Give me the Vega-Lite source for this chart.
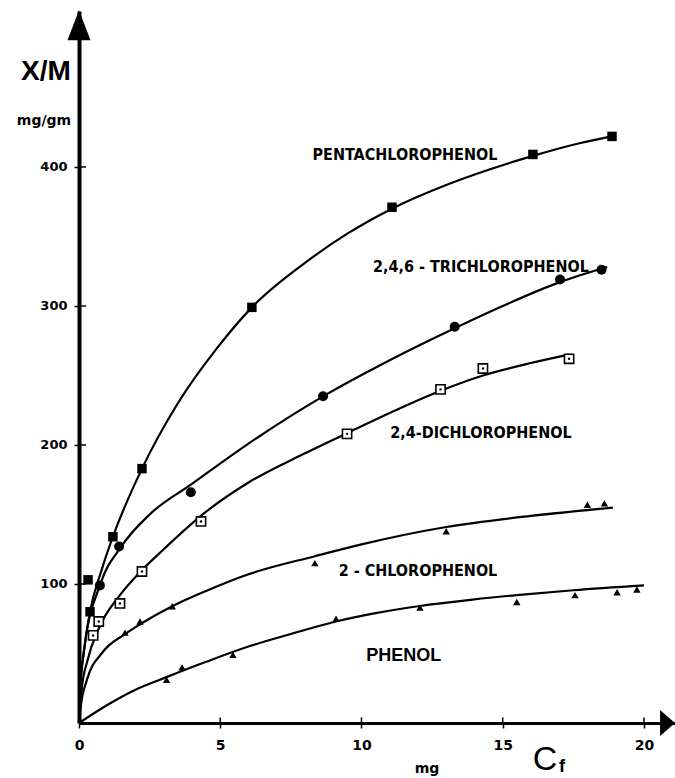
{
  "$schema": "https://vega.github.io/schema/vega-lite/v6.json",
  "width": 596,
  "height": 712,
  "autosize": {"type": "none"},
  "padding": {"left": 79, "top": 11, "right": 0, "bottom": 55},
  "background": "white",
  "config": {"view": {"stroke": null}, "axis": {"grid": false}},
  "datasets": {
    "curves": [
      {"series": "penta", "x": 0, "y": 0}, {"series": "penta", "x": 0.05, "y": 28}, {"series": "penta", "x": 0.15, "y": 48}, {"series": "penta", "x": 0.39, "y": 80}, {"series": "penta", "x": 0.8, "y": 110}, {"series": "penta", "x": 1.2, "y": 134}, {"series": "penta", "x": 2.23, "y": 183}, {"series": "penta", "x": 3.5, "y": 230}, {"series": "penta", "x": 4.9, "y": 270}, {"series": "penta", "x": 6.12, "y": 299}, {"series": "penta", "x": 8, "y": 331}, {"series": "penta", "x": 9.5, "y": 352}, {"series": "penta", "x": 11.08, "y": 370}, {"series": "penta", "x": 13, "y": 387}, {"series": "penta", "x": 14.5, "y": 398}, {"series": "penta", "x": 16.07, "y": 408}, {"series": "penta", "x": 17.5, "y": 416}, {"series": "penta", "x": 18.87, "y": 422},
      {"series": "tri", "x": 0, "y": 0}, {"series": "tri", "x": 0.05, "y": 25}, {"series": "tri", "x": 0.2, "y": 55}, {"series": "tri", "x": 0.74, "y": 99}, {"series": "tri", "x": 1.5, "y": 127}, {"series": "tri", "x": 2.5, "y": 150}, {"series": "tri", "x": 4, "y": 172}, {"series": "tri", "x": 6, "y": 201}, {"series": "tri", "x": 8.64, "y": 235}, {"series": "tri", "x": 11, "y": 261}, {"series": "tri", "x": 13.3, "y": 284}, {"series": "tri", "x": 15, "y": 300}, {"series": "tri", "x": 17, "y": 317}, {"series": "tri", "x": 18.7, "y": 328},
      {"series": "di", "x": 0, "y": 0}, {"series": "di", "x": 0.1, "y": 25}, {"series": "di", "x": 0.3, "y": 45}, {"series": "di", "x": 0.7, "y": 68}, {"series": "di", "x": 1.45, "y": 92}, {"series": "di", "x": 2.23, "y": 110}, {"series": "di", "x": 3, "y": 125}, {"series": "di", "x": 4.5, "y": 152}, {"series": "di", "x": 6, "y": 173}, {"series": "di", "x": 8, "y": 194}, {"series": "di", "x": 9.49, "y": 208.5}, {"series": "di", "x": 11, "y": 223}, {"series": "di", "x": 12.8, "y": 239}, {"series": "di", "x": 14.3, "y": 250}, {"series": "di", "x": 16, "y": 259}, {"series": "di", "x": 17.35, "y": 265},
      {"series": "chloro", "x": 0, "y": 0}, {"series": "chloro", "x": 0.05, "y": 10}, {"series": "chloro", "x": 0.28, "y": 31}, {"series": "chloro", "x": 0.8, "y": 50}, {"series": "chloro", "x": 1.63, "y": 64}, {"series": "chloro", "x": 2.16, "y": 71}, {"series": "chloro", "x": 3.3, "y": 84}, {"series": "chloro", "x": 4.5, "y": 95}, {"series": "chloro", "x": 6, "y": 107}, {"series": "chloro", "x": 8.35, "y": 120}, {"series": "chloro", "x": 10, "y": 128.5}, {"series": "chloro", "x": 13, "y": 141}, {"series": "chloro", "x": 16, "y": 149}, {"series": "chloro", "x": 18.9, "y": 155},
      {"series": "phenol", "x": 0, "y": 0}, {"series": "phenol", "x": 1, "y": 13}, {"series": "phenol", "x": 2, "y": 24}, {"series": "phenol", "x": 3.1, "y": 33}, {"series": "phenol", "x": 4.5, "y": 44}, {"series": "phenol", "x": 6, "y": 55}, {"series": "phenol", "x": 7.5, "y": 64}, {"series": "phenol", "x": 9.1, "y": 73}, {"series": "phenol", "x": 10.5, "y": 79}, {"series": "phenol", "x": 12, "y": 84}, {"series": "phenol", "x": 14, "y": 89}, {"series": "phenol", "x": 15.5, "y": 92}, {"series": "phenol", "x": 17.5, "y": 95.5}, {"series": "phenol", "x": 20, "y": 99}
    ],
    "points": [
      {"series": "penta", "x": 0.32, "y": 103}, {"series": "penta", "x": 0.39, "y": 80}, {"series": "penta", "x": 1.2, "y": 134}, {"series": "penta", "x": 2.23, "y": 183}, {"series": "penta", "x": 6.12, "y": 299}, {"series": "penta", "x": 11.08, "y": 371}, {"series": "penta", "x": 16.07, "y": 409}, {"series": "penta", "x": 18.87, "y": 422},
      {"series": "tri", "x": 0.74, "y": 99}, {"series": "tri", "x": 1.42, "y": 127}, {"series": "tri", "x": 3.96, "y": 166}, {"series": "tri", "x": 8.64, "y": 235}, {"series": "tri", "x": 13.3, "y": 285}, {"series": "tri", "x": 17.03, "y": 319}, {"series": "tri", "x": 18.5, "y": 326},
      {"series": "di", "x": 0.5, "y": 63}, {"series": "di", "x": 0.7, "y": 73}, {"series": "di", "x": 1.45, "y": 86}, {"series": "di", "x": 2.23, "y": 109}, {"series": "di", "x": 4.32, "y": 145}, {"series": "di", "x": 9.49, "y": 208}, {"series": "di", "x": 12.8, "y": 240}, {"series": "di", "x": 14.3, "y": 255}, {"series": "di", "x": 17.35, "y": 262},
      {"series": "chloro", "x": 1.63, "y": 65}, {"series": "chloro", "x": 2.16, "y": 73}, {"series": "chloro", "x": 3.3, "y": 84}, {"series": "chloro", "x": 8.35, "y": 115}, {"series": "chloro", "x": 13.0, "y": 138}, {"series": "chloro", "x": 18.0, "y": 157}, {"series": "chloro", "x": 18.6, "y": 158},
      {"series": "phenol", "x": 3.1, "y": 31}, {"series": "phenol", "x": 3.65, "y": 40}, {"series": "phenol", "x": 5.45, "y": 49}, {"series": "phenol", "x": 9.1, "y": 75}, {"series": "phenol", "x": 12.07, "y": 83}, {"series": "phenol", "x": 15.5, "y": 87}, {"series": "phenol", "x": 17.56, "y": 92}, {"series": "phenol", "x": 19.05, "y": 94}, {"series": "phenol", "x": 19.75, "y": 96}
    ],
    "labels": [
      {"label": "PENTACHLOROPHENOL", "x": 11.54, "y": 408.6},
      {"label": "2,4,6 - TRICHLOROPHENOL", "x": 14.23, "y": 328},
      {"label": "2,4-DICHLOROPHENOL", "x": 14.23, "y": 208.6},
      {"label": "2 - CHLOROPHENOL", "x": 12.0, "y": 109.4}
    ],
    "ticks": [
      {"x": 0, "x2": 0.25, "y": 100, "y2": 100}, {"x": 0, "x2": 0.25, "y": 200, "y2": 200}, {"x": 0, "x2": 0.25, "y": 300, "y2": 300}, {"x": 0, "x2": 0.25, "y": 400, "y2": 400},
      {"x": 5, "x2": 5, "y": 0, "y2": 4}, {"x": 10, "x2": 10, "y": 0, "y2": 4}, {"x": 15, "x2": 15, "y": 0, "y2": 4}, {"x": 20, "x2": 20, "y": 0, "y2": 4}
    ]
  },
  "encoding": {
    "x": {"field": "x", "type": "quantitative", "scale": {"domain": [0, 21.1], "nice": false, "zero": false},
      "axis": {"title": null, "values": [0, 5, 10, 15, 20], "domainColor": "black", "domainWidth": 3, "tickColor": "black", "tickWidth": 1.5, "tickSize": 5, "labelFont": "DejaVu Sans", "labelFontWeight": "bold", "labelFontSize": 14, "labelColor": "black", "labelPadding": 10, "labelFlush": false, "labelOverlap": false}},
    "y": {"field": "y", "type": "quantitative", "scale": {"domain": [0, 512.2], "nice": false, "zero": false},
      "axis": {"title": null, "values": [100, 200, 300, 400], "domainColor": "black", "domainWidth": 4, "tickColor": "black", "tickWidth": 1.5, "tickSize": 5, "labelFont": "DejaVu Sans", "labelFontWeight": "bold", "labelFontSize": 13, "labelColor": "black", "labelPadding": 7, "labelFlush": false, "labelOverlap": false}}
  },
  "layer": [
    {"data": {"name": "curves"}, "mark": {"type": "line", "interpolate": "monotone", "stroke": "black", "strokeWidth": 2.2, "clip": false}, "encoding": {"detail": {"field": "series"}}},
    {"data": {"name": "ticks"}, "mark": {"type": "rule", "stroke": "black", "strokeWidth": 1.5}, "encoding": {"x2": {"field": "x2"}, "y2": {"field": "y2"}}},
    {"data": {"name": "points"}, "transform": [{"filter": "datum.series == 'penta'"}], "mark": {"type": "point", "shape": "square", "filled": true, "color": "black", "size": 90, "opacity": 1}},
    {"data": {"name": "points"}, "transform": [{"filter": "datum.series == 'tri'"}], "mark": {"type": "point", "shape": "circle", "filled": true, "color": "black", "size": 100, "opacity": 1}},
    {"data": {"name": "points"}, "transform": [{"filter": "datum.series == 'di'"}], "mark": {"type": "point", "shape": "square", "filled": false, "fill": "white", "fillOpacity": 1, "stroke": "black", "strokeWidth": 1.6, "size": 85, "opacity": 1}},
    {"data": {"name": "points"}, "transform": [{"filter": "datum.series == 'di'"}], "mark": {"type": "point", "shape": "circle", "filled": true, "color": "black", "size": 6, "opacity": 1}},
    {"data": {"name": "points"}, "transform": [{"filter": "datum.series == 'chloro' || datum.series == 'phenol'"}], "mark": {"type": "point", "shape": "triangle-up", "filled": true, "color": "black", "size": 55, "opacity": 1}},
    {"data": {"values": [{"x": 0, "y": 502}]}, "mark": {"type": "point", "shape": "M0,-1L0.77,1L-0.77,1Z", "filled": true, "color": "black", "size": 900, "opacity": 1, "clip": false}},
    {"data": {"values": [{"x": 20.64, "y": 0}]}, "mark": {"type": "point", "shape": "M1,0L-0.15,-1L-0.15,1Z", "filled": true, "color": "black", "size": 676, "opacity": 1, "clip": false}},
    {"data": {"name": "labels"}, "mark": {"type": "text", "font": "DejaVu Sans Condensed, Liberation Sans Narrow, DejaVu Sans", "fontWeight": "bold", "fontSize": 16, "color": "black", "align": "center", "baseline": "middle"}, "encoding": {"text": {"field": "label"}}},
    {"data": {"values": [{"label": "PHENOL", "x": 11.5, "y": 48.2}]}, "mark": {"type": "text", "font": "Liberation Sans", "fontWeight": "bold", "fontSize": 18, "color": "black", "align": "center", "baseline": "middle"}, "encoding": {"text": {"field": "label"}}},
    {"data": {"values": [{"label": "X/M", "x": -1.17, "y": 462.6}]}, "mark": {"type": "text", "font": "Liberation Sans", "fontWeight": "bold", "fontSize": 28, "color": "black", "align": "center", "baseline": "alphabetic", "clip": false}, "encoding": {"text": {"field": "label"}}},
    {"data": {"values": [{"label": "mg/gm", "x": -1.24, "y": 430.2}, {"label": "mg", "x": 12.32, "y": -36}]}, "mark": {"type": "text", "font": "DejaVu Sans", "fontWeight": "bold", "fontSize": 14, "color": "black", "align": "center", "baseline": "alphabetic", "clip": false}, "encoding": {"text": {"field": "label"}}},
    {"data": {"values": [{"label": "C", "x": 16.5, "y": -33.5}]}, "mark": {"type": "text", "font": "Liberation Sans", "fontSize": 34, "color": "black", "align": "center", "baseline": "alphabetic", "clip": false}, "encoding": {"text": {"field": "label"}}},
    {"data": {"values": [{"label": "f", "x": 17.1, "y": -35.5}]}, "mark": {"type": "text", "font": "Liberation Sans", "fontWeight": "bold", "fontSize": 18, "color": "black", "align": "center", "baseline": "alphabetic", "clip": false}, "encoding": {"text": {"field": "label"}}}
  ]
}
